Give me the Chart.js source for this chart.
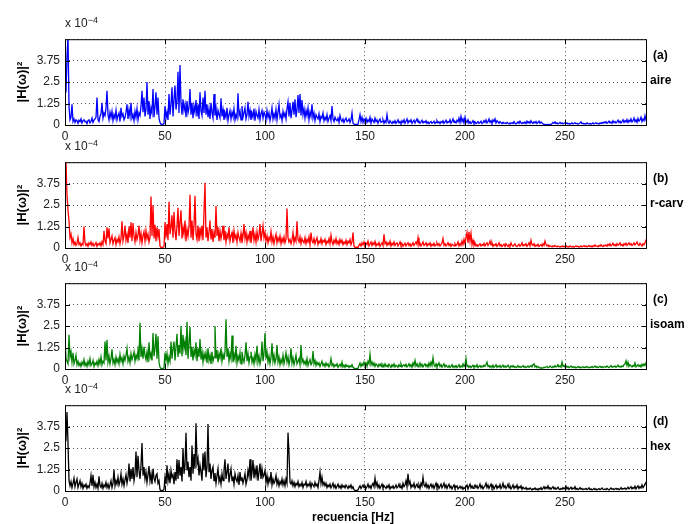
<!DOCTYPE html>
<html>
<head>
<meta charset="utf-8">
<script src="https://cdn.jsdelivr.net/npm/chart.js@4/dist/chart.umd.min.js"></script>
<style>
  html, body { margin: 0; padding: 0; background: #fff; overflow: hidden; }
  #fig { position: relative; width: 690px; height: 524px; font-family: "Liberation Sans", Arial, Helvetica, sans-serif; }
  .panel { position: absolute; left: 0; width: 690px; height: 120px; }
  .lbl { position: absolute; font-weight: bold; font-size: 12px; line-height: 14px; color: #000; white-space: nowrap; }
  .exp { position: absolute; left: 65px; font-size: 12px; line-height: 14px; color: #222; white-space: nowrap; }
  .exp sup { font-size: 9px; position: relative; top: -3px; vertical-align: top; }
</style>
</head>
<body>
<div id="fig"></div>
<script>
// |H(w)|^2 spectra sampled every 0.5 Hz from 0 to 291 Hz, values in units of 1e-6
const FREQ_STEP = 0.5;

const aire = [
  250,190,400,520,110,30,45,120,20,35,15,30,25,10,28,20,35,12,25,30,
  18,22,8,25,30,12,20,40,15,28,35,45,160,30,20,50,65,130,40,70,
  55,100,200,60,30,75,45,80,25,60,40,85,30,55,70,20,100,50,65,30,
  45,75,120,35,90,50,130,40,60,25,80,45,95,30,70,55,110,200,75,160,
  50,90,250,60,140,35,100,70,210,45,110,190,60,160,40,15,5,3,4,8,
  110,40,75,30,180,60,120,220,50,150,230,90,140,310,70,350,130,60,150,85,
  120,45,140,70,100,210,60,130,40,110,75,145,50,120,35,190,80,55,160,70,
  200,60,120,45,95,35,130,70,40,180,55,100,30,85,60,40,155,50,90,30,
  70,45,100,25,60,85,35,75,50,95,30,60,40,185,55,80,30,110,45,70,
  100,35,60,135,50,85,30,70,45,95,25,80,55,40,90,30,65,85,40,75,
  60,30,85,45,70,25,55,100,35,65,40,90,30,75,120,45,60,25,80,50,
  70,35,95,135,50,130,40,85,135,60,150,45,90,175,70,180,55,145,60,95,
  40,85,55,100,30,75,50,120,40,70,25,60,45,35,65,20,50,40,70,25,
  45,30,60,20,40,55,25,110,35,20,45,30,25,40,15,55,30,20,35,15,
  30,40,20,25,35,15,30,70,10,5,3,4,3,5,30,60,20,45,15,35,
  25,40,15,30,20,45,10,35,25,15,40,20,30,10,25,35,15,20,30,10,
  25,15,60,20,10,25,15,8,20,12,25,10,18,30,12,20,8,25,15,30,
  10,22,35,12,25,18,30,10,20,28,12,25,35,15,22,10,18,28,12,20,
  15,25,10,18,8,15,20,10,14,22,9,16,25,12,18,8,20,14,25,10,
  18,28,12,20,15,30,10,22,35,15,20,12,28,18,40,15,50,20,35,12,
  45,25,15,30,10,20,8,15,25,10,18,8,12,20,10,15,22,8,14,25,
  15,30,12,20,35,15,25,10,30,20,35,12,25,18,10,20,14,8,16,10,
  12,8,15,10,6,12,9,14,8,20,10,6,12,18,9,22,12,8,15,10,
  18,8,22,12,20,10,25,14,9,18,12,20,8,15,22,10,18,12,6,4,
  3,2,3,2,4,2,3,8,15,10,18,8,12,6,10,15,8,12,6,10,
  14,8,12,6,10,5,8,12,6,9,14,7,10,5,8,12,18,8,10,6,
  9,5,12,8,6,10,5,8,12,6,9,14,7,10,5,12,8,15,10,18,
  12,20,10,15,22,12,18,10,25,14,20,12,18,28,15,22,12,20,30,15,
  25,18,32,15,28,20,35,18,25,40,20,30,15,38,22,30,45,20,35,25,
  55,30,40
];

const rcarv = [
  480,500,310,220,160,60,80,30,55,20,35,15,25,60,20,30,12,25,18,125,
  30,15,25,10,30,20,35,15,28,12,20,32,10,25,18,30,12,35,20,100,
  40,25,120,55,115,30,50,70,25,45,60,20,50,35,65,25,55,155,40,70,
  130,45,80,30,125,60,150,40,145,70,35,90,50,75,130,45,85,30,70,95,
  40,100,55,80,35,60,300,70,250,55,135,40,120,65,110,10,4,3,5,8,
  150,60,140,45,270,80,120,190,60,210,100,45,130,235,70,150,220,55,120,80,
  160,40,110,70,130,310,60,160,45,130,305,80,50,130,40,120,70,130,45,210,
  380,60,120,40,95,160,50,110,35,90,60,245,70,120,40,100,55,85,130,45,
  100,35,80,60,120,40,70,90,30,100,55,75,35,90,60,40,85,30,70,140,
  55,90,35,75,50,100,30,65,120,45,80,35,95,50,75,140,40,85,130,60,
  90,40,70,30,60,45,95,35,65,25,55,80,30,60,40,70,25,55,35,65,
  30,50,230,60,35,50,25,45,90,30,60,40,155,50,35,65,25,55,40,30,
  60,25,50,35,65,20,90,40,30,55,25,45,60,20,40,30,55,25,45,35,
  50,20,40,30,55,25,75,35,20,45,30,55,25,40,20,50,30,45,20,35,
  25,45,20,40,30,50,20,35,90,10,4,3,5,3,15,25,12,30,18,35,
  15,28,20,40,12,25,35,15,30,20,38,12,25,18,32,10,22,30,15,80,
  25,35,15,30,20,40,12,28,18,35,15,25,30,12,22,35,15,25,10,20,
  28,12,22,30,15,25,10,20,30,15,25,35,20,60,15,28,12,22,35,15,
  20,30,12,25,18,30,10,22,15,28,12,20,30,15,25,12,20,30,55,15,
  25,12,20,30,15,25,10,22,18,12,25,15,20,35,12,25,15,40,20,50,
  25,60,90,30,95,40,85,20,45,15,30,12,20,10,18,25,12,20,15,28,
  12,22,30,15,25,40,18,30,10,20,15,25,10,18,30,12,20,8,15,22,
  10,25,15,8,20,12,30,15,10,18,25,12,8,15,22,10,18,30,12,20,
  15,25,10,18,30,12,45,20,15,25,10,18,12,22,8,15,20,10,25,15,
  40,20,12,18,8,14,10,6,12,8,15,10,6,12,9,5,10,7,12,6,
  10,14,6,9,5,12,8,6,10,5,9,13,7,10,5,8,12,6,10,14,
  8,12,6,10,15,8,12,6,14,9,18,10,12,7,15,10,20,12,8,16,
  12,18,10,22,14,25,12,18,28,15,20,12,25,16,22,30,15,20,12,25,
  18,28,15,22,30,18,25,15,20,30,18,25,35,20,15,28,20,12,25,18,
  30,45,25
];

const isoam = [
  180,60,45,30,200,70,100,40,95,30,50,80,25,45,20,35,15,40,25,55,
  20,35,15,45,25,60,20,30,50,15,35,25,45,20,55,30,70,25,45,35,
  160,50,170,40,75,30,60,115,35,55,25,70,40,60,30,85,45,65,30,75,
  50,80,120,45,70,35,90,55,75,100,45,80,60,110,50,270,70,120,60,130,
  80,55,100,40,155,65,90,50,210,75,120,205,60,190,40,10,3,2,4,6,
  95,50,90,30,70,45,160,60,120,160,50,130,205,70,140,90,250,75,200,120,
  160,80,275,60,150,245,70,130,50,110,80,155,45,120,70,175,55,100,40,90,
  60,95,35,120,50,80,30,100,45,70,250,60,110,40,90,65,120,45,85,55,
  100,290,70,120,45,90,60,195,40,85,55,135,35,75,50,95,30,100,60,40,
  80,155,45,90,35,70,100,40,65,30,85,50,135,40,75,30,60,160,45,90,
  210,60,100,40,75,30,65,150,45,80,35,60,140,40,70,25,55,35,80,30,
  60,95,40,70,25,55,120,35,65,25,50,80,30,45,60,25,140,40,55,30,
  45,25,60,20,40,55,25,35,105,30,50,20,40,25,35,15,30,45,20,30,
  15,35,20,30,12,25,60,20,30,12,25,18,30,10,20,28,15,40,12,22,
  10,25,15,20,8,18,12,25,10,5,3,2,3,4,20,35,15,30,20,40,
  25,35,15,45,30,85,25,40,20,35,15,30,22,12,28,18,30,12,25,15,
  30,15,22,12,28,18,10,25,15,30,12,22,18,10,25,15,30,12,20,25,
  15,28,12,20,30,15,25,10,35,20,50,18,30,12,25,35,15,28,12,22,
  30,15,25,12,35,18,40,20,65,25,15,30,12,22,35,15,25,10,20,30,
  12,22,15,10,20,8,15,25,10,18,12,20,8,15,25,10,18,12,30,15,
  25,60,15,20,10,18,8,15,22,10,18,12,25,8,15,20,10,18,12,22,
  15,25,40,15,20,10,18,12,22,8,15,25,10,18,12,20,8,15,22,10,
  18,10,15,22,12,8,18,12,20,10,15,8,12,20,10,15,8,14,20,10,
  15,8,12,18,10,15,20,12,25,30,12,18,8,15,10,5,8,4,6,10,
  8,12,15,8,10,18,12,8,15,10,20,12,15,25,12,18,10,40,15,20,
  12,18,10,15,8,12,18,10,14,8,12,6,10,15,8,12,6,10,14,8,
  12,8,15,10,6,12,9,15,8,12,18,10,14,8,12,16,10,14,8,12,
  15,10,18,12,8,14,20,10,15,12,18,10,14,22,12,16,10,18,14,25,
  30,48,20,40,15,25,18,12,20,15,35,12,18,25,15,22,12,28,18,30,
  20,35,25
];

const hex = [
  310,300,460,280,60,30,55,20,45,75,25,50,70,20,40,60,25,45,15,35,
  25,40,15,30,20,45,90,30,95,25,50,20,40,15,85,30,20,45,15,35,
  25,50,20,40,15,35,60,20,45,125,30,60,40,80,35,55,100,40,70,30,
  65,95,45,80,160,55,130,70,140,60,100,230,80,205,120,70,150,280,90,140,
  70,110,50,95,145,60,100,40,130,75,55,90,100,45,60,8,3,2,4,10,
  80,40,150,60,100,45,120,80,95,40,110,60,185,70,180,90,140,55,250,100,
  150,340,120,170,80,140,60,265,100,215,130,395,160,190,90,150,110,60,220,120,
  230,80,140,390,110,160,70,120,140,60,105,45,90,130,55,80,40,100,60,120,
  185,70,110,160,50,95,130,60,85,40,100,70,55,90,35,110,60,80,45,70,
  100,40,65,120,85,185,60,110,180,75,130,90,150,60,110,160,70,130,80,95,
  120,50,90,40,75,55,110,35,70,45,60,90,40,65,30,55,40,70,35,60,
  30,70,45,340,220,50,40,60,30,50,25,45,35,55,25,40,30,50,20,40,
  35,55,25,40,30,50,20,45,35,25,50,30,40,20,60,110,45,80,35,50,
  30,45,20,35,25,40,18,30,45,20,35,15,28,40,20,30,15,35,22,30,
  18,35,25,15,30,20,35,15,25,8,3,2,4,6,20,30,15,25,35,20,
  30,15,25,40,20,30,15,35,45,25,75,30,50,20,35,15,28,40,18,30,
  22,15,30,20,35,12,25,18,30,15,22,35,18,25,40,20,30,15,45,25,
  35,60,25,100,40,55,20,35,25,45,18,30,40,20,35,15,45,30,80,35,
  25,45,20,35,15,30,40,20,35,15,30,45,20,35,15,28,40,18,30,45,
  20,35,15,30,40,18,28,12,25,35,15,22,30,12,20,28,15,25,10,20,
  15,25,35,12,28,40,18,30,15,25,35,20,30,15,25,40,18,30,12,22,
  30,45,20,35,15,28,40,18,30,12,25,35,15,28,20,38,15,25,45,20,
  30,15,25,40,18,30,12,22,35,15,28,20,35,12,25,18,30,10,22,15,
  12,20,8,15,10,18,12,6,14,10,18,8,12,6,15,10,20,8,15,25,
  12,22,15,30,12,20,10,18,25,12,20,10,15,22,12,8,15,10,20,12,
  18,28,12,20,8,15,22,10,18,12,25,10,15,8,12,20,10,15,8,12,
  10,15,8,12,18,8,12,6,10,15,8,12,6,10,14,8,12,18,10,8,
  12,8,15,10,6,12,18,10,14,8,12,16,10,14,8,12,20,10,15,12,
  18,10,14,22,12,18,25,12,20,15,28,12,22,30,15,25,18,35,20,28,
  40,50,25
];

const spectra = [aire, rcarv, isoam, hex];
const panelTags = ['(a)', '(b)', '(c)', '(d)'];
const panelNames = ['aire', 'r-carv', 'isoam', 'hex'];
const lineColors = ['#0000ff', '#ff0000', '#008000', '#000000'];
const xTicks = [0, 50, 100, 150, 200, 250];
const yTicks = [0, 1.25, 2.5, 3.75];
const X_MAX = 291;
const Y_MAX = 5;

// layout of the stacked axes (px)
const plotTops = [33, 156, 277, 399];
const PLOT_LEFT = 65, PLOT_RIGHT = 647, PLOT_H = 92, PAD_TOP = 6, XAXIS_H = 22;

const FONT = '"Liberation Sans", Arial, Helvetica, sans-serif';

// black box with inward tick marks on all four sides
const boxPlugin = {
  id: 'box',
  afterDatasetsDraw(chart) {
    const { ctx, chartArea: a, scales: { x, y } } = chart;
    ctx.save();
    ctx.strokeStyle = '#000';
    ctx.lineWidth = 1;
    ctx.beginPath();
    xTicks.slice(1).forEach(v => {
      const px = Math.round(x.getPixelForValue(v)) + 0.5;
      ctx.moveTo(px, a.top); ctx.lineTo(px, a.top + 5);
      ctx.moveTo(px, a.bottom); ctx.lineTo(px, a.bottom - 5);
    });
    yTicks.slice(1).forEach(v => {
      const py = Math.round(y.getPixelForValue(v)) + 0.5;
      ctx.moveTo(a.left, py); ctx.lineTo(a.left + 5, py);
      ctx.moveTo(a.right, py); ctx.lineTo(a.right - 5, py);
    });
    ctx.stroke();
    ctx.strokeRect(a.left + 0.5, a.top + 0.5, a.right - a.left - 1, a.bottom - a.top);
    ctx.restore();
  }
};

const fig = document.getElementById('fig');

function addLabel(cls, html, left, top) {
  const d = document.createElement('div');
  d.className = cls;
  d.innerHTML = html;
  d.style.left = left + 'px';
  d.style.top = top + 'px';
  fig.appendChild(d);
}

spectra.forEach((spec, i) => {
  const top = plotTops[i];
  const box = document.createElement('div');
  box.className = 'panel';
  box.style.top = (top - PAD_TOP) + 'px';
  const canvas = document.createElement('canvas');
  canvas.width = 690;
  canvas.height = PAD_TOP + PLOT_H + XAXIS_H;
  box.appendChild(canvas);
  fig.appendChild(box);

  new Chart(canvas, {
    type: 'line',
    data: {
      datasets: [{
        data: spec.map((v, k) => ({ x: k * FREQ_STEP, y: v / 100 })),
        borderColor: lineColors[i],
        borderWidth: 1.3,
        pointRadius: 0,
        fill: false,
        tension: 0
      }]
    },
    options: {
      responsive: false,
      animation: false,
      events: [],
      parsing: false,
      normalized: true,
      layout: { padding: { top: PAD_TOP, right: 690 - PLOT_RIGHT, left: 0, bottom: 0 } },
      plugins: { legend: { display: false }, tooltip: { enabled: false } },
      scales: {
        x: {
          type: 'linear',
          min: 0,
          max: X_MAX,
          afterFit: s => { s.height = XAXIS_H; },
          grid: { color: '#555', lineWidth: 1, drawTicks: false, borderDash: [1, 3] },
          border: { display: false, dash: [1, 3] },
          ticks: {
            stepSize: 50,
            includeBounds: false,
            autoSkip: false,
            maxRotation: 0,
            padding: 4,
            color: '#222',
            font: { family: FONT, size: 12 }
          }
        },
        y: {
          min: 0,
          max: Y_MAX,
          afterFit: s => { s.width = PLOT_LEFT; },
          grid: { color: '#555', lineWidth: 1, drawTicks: false, borderDash: [1, 3] },
          border: { display: false, dash: [1, 3] },
          title: {
            display: true,
            text: '|H(ω)|²',
            color: '#000',
            padding: { top: 15, bottom: 0 },
            font: { family: FONT, size: 13, weight: 'bold' }
          },
          ticks: {
            stepSize: 1.25,
            padding: 5,
            color: '#222',
            font: { family: FONT, size: 12 },
            callback: v => (v >= Y_MAX ? '' : String(v))
          }
        }
      }
    },
    plugins: [boxPlugin]
  });

  addLabel('exp', 'x 10<sup>−4</sup>', PLOT_LEFT, top - 17);
  addLabel('lbl', panelTags[i], 653, top + 15);
  addLabel('lbl', panelNames[i], 650, top + 40);
});

addLabel('lbl', 'recuencia [Hz]', 312, 510);
</script>
</body>
</html>
